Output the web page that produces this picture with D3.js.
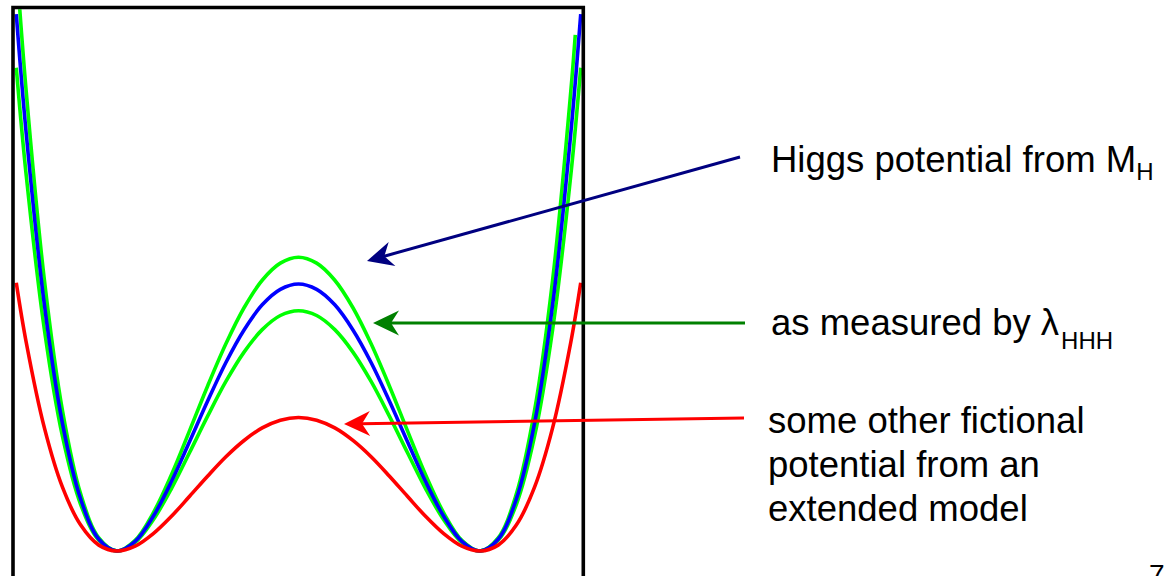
<!DOCTYPE html>
<html>
<head>
<meta charset="utf-8">
<script src="https://cdn.jsdelivr.net/npm/d3@7"></script>
<style>
  html, body { margin: 0; padding: 0; background: #fff; overflow: hidden; }
  svg { display: block; }
  text { font-family: "Liberation Sans", Arial, sans-serif; fill: #000; }
</style>
</head>
<body>
<svg id="chart" width="1171" height="576"></svg>
<script>
// Field value phi (minima at ±1) and potential V(phi) samples for each curve.
const phiSamples = [-1.555, -1.5, -1.4, -1.3, -1.2, -1.1, -1.0, -0.9, -0.8, -0.7, -0.6, -0.5, -0.4, -0.3, -0.2, -0.1,
  0, 0.1, 0.2, 0.3, 0.4, 0.5, 0.6, 0.7, 0.8, 0.9, 1.0, 1.1, 1.2, 1.3, 1.4, 1.5, 1.555];
const phiSamplesUpper = [-1.555, -1.5, -1.4, -1.3, -1.2, -1.1, -1.0, -0.9, -0.8, -0.7, -0.6, -0.5, -0.4, -0.3, -0.2, -0.1,
  0, 0.1, 0.2, 0.3, 0.4, 0.5, 0.6, 0.7, 0.8, 0.9, 1.0, 1.1, 1.2, 1.3, 1.4, 1.5, 1.525];

// Higgs potential from M_H
const vHiggs = [2.011, 1.5625, 0.922, 0.476, 0.194, 0.044, 0, 0.036, 0.130, 0.260, 0.410, 0.5625, 0.706, 0.828, 0.922, 0.980,
  1.0, 0.980, 0.922, 0.828, 0.706, 0.5625, 0.410, 0.260, 0.130, 0.036, 0, 0.044, 0.194, 0.476, 0.922, 1.5625, 2.011];
// band measured by lambda_HHH: upper and lower edge
const vBandUpper = [2.212, 1.719, 1.014, 0.524, 0.213, 0.049, 0, 0.040, 0.143, 0.286, 0.451, 0.619, 0.776, 0.911, 1.014, 1.078,
  1.1, 1.078, 1.014, 0.911, 0.776, 0.619, 0.451, 0.286, 0.143, 0.040, 0, 0.049, 0.213, 0.524, 1.014, 1.719, 1.933];
const vBandLower = [1.810, 1.406, 0.829, 0.428, 0.174, 0.040, 0, 0.032, 0.117, 0.234, 0.369, 0.506, 0.635, 0.745, 0.829, 0.882,
  0.9, 0.882, 0.829, 0.745, 0.635, 0.506, 0.369, 0.234, 0.117, 0.032, 0, 0.040, 0.174, 0.428, 0.829, 1.406, 1.810];
// some other fictional potential
const vExtended = [1.005, 0.781, 0.461, 0.238, 0.097, 0.022, 0, 0.018, 0.065, 0.130, 0.205, 0.281, 0.353, 0.414, 0.461, 0.490,
  0.5, 0.490, 0.461, 0.414, 0.353, 0.281, 0.205, 0.130, 0.065, 0.018, 0, 0.022, 0.097, 0.238, 0.461, 0.781, 1.005];

const labelHiggs = ["Higgs potential from M", "H"];
const labelMeasured = ["as measured by \u03bb", "HHH"];
const labelExtended = ["some other fictional", "potential from an", "extended model"];
const pageNumber = "7";

const svg = d3.select("#chart");

const x = d3.scaleLinear().domain([-1, 1]).range([117, 480]);
const y = d3.scaleLinear().domain([0, 1]).range([551, 284]);

// frame
const frame = { left: 13, top: 7.5, right: 583.3, bottom: 620 };
svg.append("defs").append("clipPath").attr("id", "plotClip")
  .append("rect")
  .attr("x", frame.left).attr("y", frame.top + 1.75)
  .attr("width", frame.right - frame.left).attr("height", frame.bottom - frame.top);

const line = d3.line()
  .x(d => x(d[0]))
  .y(d => y(d[1]))
  .curve(d3.curveCatmullRom.alpha(0.5));

const series = [
  { phi: phiSamplesUpper, v: vBandUpper, color: "#00ff00" },
  { phi: phiSamples, v: vBandLower, color: "#00ff00" },
  { phi: phiSamples, v: vHiggs, color: "#0000ff" },
  { phi: phiSamples, v: vExtended, color: "#ff0000" }
];

const plot = svg.append("g").attr("clip-path", "url(#plotClip)");
plot.selectAll("path.curve")
  .data(series)
  .join("path")
  .attr("class", "curve")
  .attr("fill", "none")
  .attr("stroke", d => d.color)
  .attr("stroke-width", 3.6)
  .attr("stroke-linejoin", "round")
  .attr("d", d => line(d.phi.map((p, i) => [p, d.v[i]])));

svg.append("path")
  .attr("fill", "none")
  .attr("stroke", "#000")
  .attr("stroke-width", 3.6)
  .attr("d", `M${frame.left},${frame.bottom}V${frame.top}H${frame.right}V${frame.bottom}`);

// annotation arrows (tail -> tip)
const arrows = [
  { from: [740, 157], to: [367, 261], color: "#000080" },
  { from: [745, 323], to: [373, 323], color: "#008000" },
  { from: [744, 418], to: [344, 424], color: "#ff0000" }
];
const headLen = 26, headHalf = 12.5, notch = 18;
arrows.forEach(a => {
  const dx = a.from[0] - a.to[0], dy = a.from[1] - a.to[1];
  const len = Math.hypot(dx, dy);
  const ux = dx / len, uy = dy / len;
  const nx = -uy, ny = ux;
  const t = a.to;
  svg.append("line")
    .attr("x1", a.from[0]).attr("y1", a.from[1])
    .attr("x2", t[0] + ux * (notch - 1)).attr("y2", t[1] + uy * (notch - 1))
    .attr("stroke", a.color).attr("stroke-width", 3);
  const pts = [
    [t[0], t[1]],
    [t[0] + ux * headLen + nx * headHalf, t[1] + uy * headLen + ny * headHalf],
    [t[0] + ux * notch, t[1] + uy * notch],
    [t[0] + ux * headLen - nx * headHalf, t[1] + uy * headLen - ny * headHalf]
  ];
  svg.append("path")
    .attr("d", "M" + pts.map(p => p.join(",")).join("L") + "Z")
    .attr("fill", a.color);
});

// labels
const t1 = svg.append("text").attr("x", 771).attr("y", 172).style("font-size", "36.5px");
t1.append("tspan").text(labelHiggs[0]);
t1.append("tspan").attr("dy", 8).style("font-size", "24px").text(labelHiggs[1]);

const t2 = svg.append("text").attr("x", 771).attr("y", 335).style("font-size", "36.5px");
t2.append("tspan").text(labelMeasured[0]);
t2.append("tspan").attr("dx", 2).attr("dy", 14).style("font-size", "24px").text(labelMeasured[1]);

svg.append("g").selectAll("text")
  .data(labelExtended)
  .join("text")
  .attr("x", 768)
  .attr("y", (d, i) => 433 + i * 44)
  .style("font-size", "36.5px")
  .text(d => d);

svg.append("text").attr("x", 1149).attr("y", 584).style("font-size", "28px").text(pageNumber);
</script>
</body>
</html>
